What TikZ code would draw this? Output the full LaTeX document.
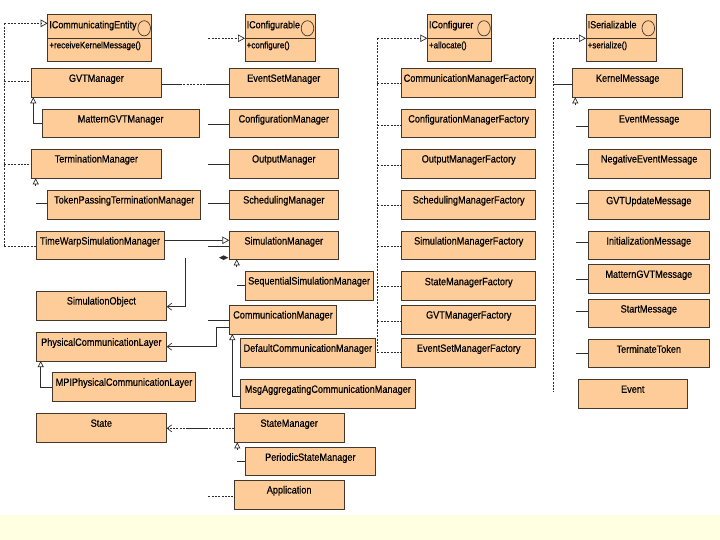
\documentclass[tikz,border=0pt]{standalone}
\usepackage{fontspec}
\setmainfont{Liberation Sans}[FakeStretch=0.87,FakeBold=0.45]
\usetikzlibrary{arrows.meta}
\definecolor{peach}{RGB}{253,204,153}
\definecolor{edgec}{RGB}{68,56,44}
\definecolor{band}{RGB}{255,255,226}
\definecolor{wirec}{RGB}{45,45,45}
\tikzset{
  box/.style={draw=edgec, fill=peach, line width=0.9pt, inner sep=0pt, outer sep=0pt},
  lbl/.style={anchor=base, inner sep=0pt, font=\fontsize{10.5}{12}\selectfont, text=black},
  ilbl/.style={anchor=base west, inner sep=0pt, font=\fontsize{10.3}{12}\selectfont, text=black},
  mlbl/.style={anchor=base west, inner sep=0pt, font=\fontsize{9.2}{11}\selectfont, text=black},
  wire/.style={draw=wirec, line width=0.7pt},
  dashwire/.style={wire, dash pattern=on 2pt off 1.3pt},
  realize/.style={-{Triangle[open, length=7pt, width=7.5pt]}},
  gen/.style={-{Triangle[open, length=6pt, width=6pt]}},
  stick/.style={-{Straight Barb[length=4.5pt, width=7pt]}},
}
\newcommand\umlbox[6]{%
  \node[box, anchor=north west, minimum width={#4pt-#2pt}, minimum height={#5pt-#3pt}] (#1) at (#2,#3) {};
  \node[lbl] (#1t) at ({(#2+#4)/2},{#3+13.5}) {#6};}
\newcommand\ifacebox[8]{%
  \node[box, anchor=north west, minimum width={#4pt-#2pt}, minimum height={#5pt-#3pt}] (#1) at (#2,#3) {};
  \draw[draw=edgec, line width=0.9pt] (#1.west |- 0,38.3) -- (#1.east |- 0,38.3);
  \node[ilbl] (#1t) at ({#2+1.5},{#3+14}) {#6};
  \node[mlbl] (#1m) at ({#2+1.5},{#3+34}) {#7};
  \draw[draw=edgec, line width=0.7pt] (#8,{#3+14}) ellipse [x radius=6.3, y radius=7.6];}
\begin{document}
\begin{tikzpicture}[x=1pt,y=-1pt]
\useasboundingbox (0,0) rectangle (720,540);
\fill[white] (0,0) rectangle (720,540);
\fill[band] (0,515) rectangle (720,540);

% ---------- left column
\ifacebox{ice}{47.7}{14.3}{151.7}{61}{ICommunicatingEntity}{+receiveKernelMessage()}{144.2}
\umlbox{gvt}{31}{68.3}{161.7}{97.3}{GVTManager}
\umlbox{mgvt}{42.3}{109}{199}{137.7}{MatternGVTManager}
\umlbox{term}{31}{149}{161.7}{178.3}{TerminationManager}
\umlbox{tok}{47.7}{190}{200.7}{219.3}{TokenPassingTerminationManager}
\umlbox{tw}{36}{231}{164}{259.3}{TimeWarpSimulationManager}
\umlbox{so}{36}{291}{166.7}{320}{SimulationObject}
\umlbox{pcl}{36}{332.3}{166.7}{361}{PhysicalCommunicationLayer}
\umlbox{mpi}{52.3}{372.3}{195.7}{401}{MPIPhysicalCommunicationLayer}
\umlbox{st}{36}{413.3}{166.7}{442.3}{State}

% ---------- middle column
\ifacebox{icf}{245}{14.3}{315.7}{61}{IConfigurable}{+configure()}{307.5}
\umlbox{esm}{229.3}{68.3}{338.3}{97.3}{EventSetManager}
\umlbox{cfm}{229.3}{109}{338.3}{137.7}{ConfigurationManager}
\umlbox{om}{229.3}{149}{338.3}{178.3}{OutputManager}
\umlbox{sch}{229.3}{190}{338.3}{219.3}{SchedulingManager}
\umlbox{sim}{229.3}{231}{338.3}{259.3}{SimulationManager}
\umlbox{seq}{245}{271}{373.3}{300}{SequentialSimulationManager}
\umlbox{cm}{229.3}{305}{336.7}{334}{CommunicationManager}
\umlbox{dcm}{240}{338.3}{375.7}{367.3}{DefaultCommunicationManager}
\umlbox{mag}{240}{379.3}{415.7}{408.3}{MsgAggregatingCommunicationManager}
\umlbox{sm}{234.3}{413.3}{344}{442.3}{StateManager}
\umlbox{psm}{245}{447.3}{375.7}{475.7}{PeriodicStateManager}
\umlbox{app}{234.3}{480}{344}{509.3}{Application}

% ---------- factory column
\ifacebox{icr}{427.3}{14.3}{491.7}{61}{IConfigurer}{+allocate()}{484}
\umlbox{cmf}{401.7}{68.3}{535.7}{97.3}{CommunicationManagerFactory}
\umlbox{cff}{401.7}{109}{535.7}{137.7}{ConfigurationManagerFactory}
\umlbox{omf}{401.7}{149}{535.7}{178.3}{OutputManagerFactory}
\umlbox{smf}{401.7}{190}{535.7}{219.3}{SchedulingManagerFactory}
\umlbox{simf}{401.7}{231}{535.7}{259.3}{SimulationManagerFactory}
\umlbox{stf}{401.7}{271.7}{535.7}{300}{StateManagerFactory}
\umlbox{gvf}{401.7}{305}{535.7}{334}{GVTManagerFactory}
\umlbox{esf}{401.7}{338.3}{535.7}{367.3}{EventSetManagerFactory}

% ---------- message column
\ifacebox{iser}{586}{14.3}{656}{61}{ISerializable}{+serialize()}{648.3}
\umlbox{km}{572.7}{68.3}{682.7}{97.3}{KernelMessage}
\umlbox{em}{588.3}{109}{710}{137.7}{EventMessage}
\umlbox{nem}{588.3}{149}{710}{178.3}{NegativeEventMessage}
\umlbox{gum}{588.3}{190.7}{709.3}{219.3}{GVTUpdateMessage}
\umlbox{inm}{588.3}{231}{709.3}{259.3}{InitializationMessage}
\umlbox{mgm}{588.3}{264.3}{709.3}{293.3}{MatternGVTMessage}
\umlbox{stm}{588.3}{299}{709.3}{327.3}{StartMessage}
\umlbox{tt}{588.3}{339.3}{709.3}{367.3}{TerminateToken}
\umlbox{ev}{578.3}{379.3}{687.3}{408.3}{Event}

% ---------- left dashed bus
\coordinate (lb0) at (4.3,23.3);
\coordinate (lb1) at (4.3,81);
\coordinate (lb2) at (4.3,164.3);
\coordinate (lb3) at (4.3,246);
\draw[dashwire] (lb0) -- (lb3);
\draw[dashwire, realize] (lb0) -- (lb0 -| ice.west);
\draw[dashwire] (lb1) -- (lb1 -| gvt.west);
\draw[dashwire] (lb2) -- (lb2 -| term.west);
\draw[dashwire] (lb3) -- (lb3 -| tw.west);

% generalizations, left
\coordinate (g1) at (33.3,123);
\draw[wire, gen] (g1 -| mgvt.west) -- (g1) -- (g1 |- gvt.south);
\coordinate (g2) at (35.7,186);
\draw[wire, gen] (g2) -- (g2 |- term.south);
\coordinate (g2s) at (36,203.3);
\draw[wire] (g2s) -- (g2s -| tok.west);
\coordinate (g5) at (40.7,387.3);
\draw[wire, gen] (g5 -| mpi.west) -- (g5) -- (g5 |- pcl.south);

% GVTManager -> EventSetManager
\coordinate (ge1) at (180,84.3);
\coordinate (ge2) at (207,84.3);
\draw[wire] (ge1 -| gvt.east) -- (ge1);
\draw[dashwire] (ge1) -- (ge2);
\draw[wire] (ge2) -- (ge2 -| esm.west);

% middle stubs
\coordinate (ic0) at (208.3,38.3);
\draw[dashwire, realize] (ic0) -- (ic0 -| icf.west);
\coordinate (ms1) at (208.3,124.3);
\draw[wire] (ms1) -- (ms1 -| cfm.west);
\coordinate (ms2) at (208.3,164.3);
\draw[wire] (ms2) -- (ms2 -| om.west);
\coordinate (ms3) at (208.3,203.3);
\draw[wire] (ms3) -- (ms3 -| sch.west);
\coordinate (ms4) at (208.3,246.3);
\draw[wire] (ms4) -- (ms4 -| sim.west);
\coordinate (ms5) at (208.3,320);
\draw[wire] (ms5) -- (ms5 -| cm.west);

% TimeWarp -> SimulationManager
\coordinate (twr) at (164,240.3);
\draw[wire, realize] (twr -| tw.east) -- (twr -| sim.west);
\fill[wirec] (219,257.7) -- (223.6,255.4) -- (228.3,257.7) -- (223.6,260) -- cycle;

% SimulationManager generalization
\coordinate (g3) at (236.7,267);
\draw[wire, gen] (g3) -- (g3 |- sim.south);
\coordinate (g3s) at (237.3,285);
\draw[wire] (g3s) -- (g3s -| seq.west);

% -> SimulationObject
\coordinate (so0) at (185.7,258.3);
\coordinate (so1) at (185.7,306.7);
\draw[wire, stick] (so0) -- (so1) -- (so1 -| so.east);

% CommunicationManager -> PhysicalCommunicationLayer
\coordinate (cp0) at (216.7,327.3);
\coordinate (cp1) at (216.7,346.7);
\draw[wire, stick] (cp0 -| cm.west) -- (cp0) -- (cp1) -- (cp1 -| pcl.east);

% CommunicationManager generalization
\coordinate (g4) at (232.3,396);
\draw[wire, gen] (g4 -| mag.west) -- (g4) -- (g4 |- cm.south);

% StateManager -> State
\coordinate (ss) at (200,428.3);
\draw[dashwire, stick] (ss -| sm.west) -- (ss -| st.east);
\coordinate (ss1) at (187,428.3);
\coordinate (ss2) at (208,428.3);
\draw[wire] (ss1) -- (ss2);

% StateManager generalization
\coordinate (g6) at (237.3,450);
\draw[wire, gen] (g6) -- (g6 |- sm.south);
\coordinate (g6s) at (237.3,461);
\draw[wire] (g6s) -- (g6s -| psm.west);

% Application stub
\coordinate (ap) at (208.3,496);
\draw[dashwire] (ap) -- (ap -| app.west);

% factory bus
\coordinate (fb0) at (377.3,38.3);
\coordinate (fb9) at (377.3,352.7);
\draw[dashwire] (fb0) -- (fb9);
\draw[dashwire, realize] (fb0) -- (fb0 -| icr.west);
\foreach \yy/\nn in {83.3/cmf,125/cff,165/omf,205/smf,246.5/simf,286.5/stf,321.7/gvf,352.7/esf}{
  \coordinate (f-\nn) at (377.3,\yy);
  \draw[dashwire] (f-\nn) -- (f-\nn -| \nn.west);
}

% message bus
\coordinate (mb0) at (553.3,38.3);
\coordinate (mb9) at (553.3,391.7);
\draw[dashwire] (mb0) -- (mb9);
\draw[dashwire, realize] (mb0) -- (mb0 -| iser.west);
\coordinate (mk) at (553.3,84.3);
\draw[wire] (mk) -- (mk -| km.west);
\coordinate (g7) at (575.3,105);
\draw[wire, gen] (g7) -- (g7 |- km.south);
\foreach \yy/\nn in {126/em,164.3/nem,203.3/gum,242.7/inm,279.3/mgm,311/stm,353.3/tt}{
  \coordinate (m-\nn) at (576,\yy);
  \draw[wire] (m-\nn) -- (m-\nn -| \nn.west);
}
\end{tikzpicture}
\end{document}
